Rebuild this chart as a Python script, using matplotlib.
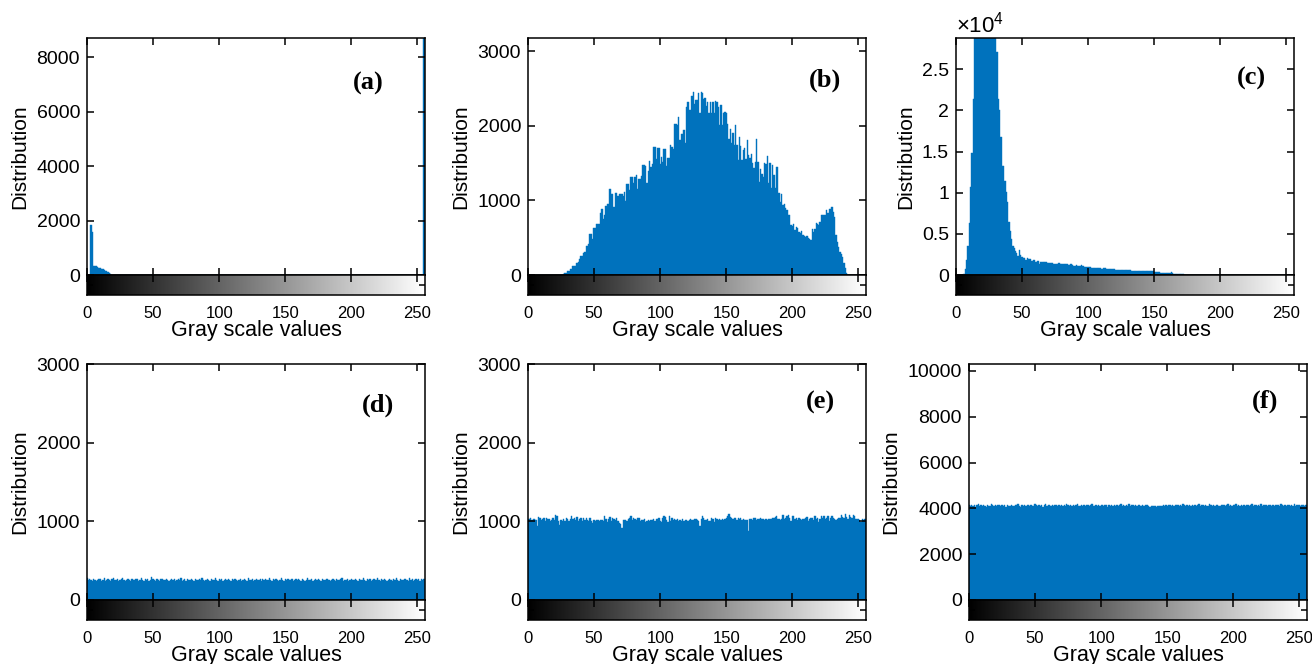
import numpy as np
import matplotlib
matplotlib.use("Agg")
import matplotlib.pyplot as plt
from matplotlib.ticker import FuncFormatter

# ---------------------------------------------------------------- data
# 256-bin gray-level histograms (bin index = gray value)
hist_a = ([0, 0, 0, 1840, 1595, 330, 345, 320, 290, 270, 250, 235, 215, 190,
           160, 130, 100, 70, 40, 15] + [0] * 235 + [8700])

hist_b = ([0] * 26 +
          [5, 18, 27, 27, 54, 54, 80, 80, 116, 116, 116, 160, 180, 215,
           260, 260, 290, 304, 393, 393, 416, 545, 554, 483, 630, 630, 684,
           684, 684, 831, 885, 750, 805, 925, 952, 952, 1153, 1086, 1086,
           912, 1100, 1100, 1060, 1082, 1082, 1082, 1060, 1113, 992, 1220,
           1220, 1140, 1310, 1310, 1234, 1319, 1337, 1158, 1283, 1283, 1323,
           1475, 1475, 1462, 1234, 1395, 1529, 1444, 1484, 1712, 1712, 1556,
           1703, 1703, 1489, 1582, 1515, 1694, 1694, 1457, 1569, 1569, 1748,
           1712, 1694, 2025, 2025, 2016, 2114, 1810, 1890, 1890, 1949, 1770,
           2253, 2320, 2213, 2213, 2400, 2459, 2293, 2347, 2347, 2440,
           2168, 2450, 2436, 2356, 2370, 2266, 2324, 2168, 2324, 2168, 2315,
           2168, 2338, 2324, 2248, 2012, 2280, 2012, 2168, 2181, 2168, 2020,
           1824, 1958, 1766, 1900, 1743, 2012, 1743, 1542, 1846, 1730, 1542,
           1676, 1699, 1556, 1806, 1609, 1565, 1623, 1497, 1430, 1520, 1819,
           1520, 1252, 1417, 1350, 1319, 1497, 1489, 1596, 1229, 1497, 1162,
           1475, 1341, 1162, 1444, 1453, 1095, 983, 1086, 939, 952, 894, 872,
           805, 805, 670, 662, 684, 603, 648, 626, 581, 559, 595, 536, 523,
           514, 527, 500, 480, 469, 617, 577, 617, 693, 684, 670, 715, 805,
           805, 805, 805, 872, 836, 885, 881, 916, 849, 782, 536, 447, 371,
           313, 282, 246, 165, 89, 22] +
          [0] * 14)

hist_c = ([0] * 6 +
          [150, 690, 1790, 3540, 6260, 10650, 14800, 21350] +
          [29000] * 17 +
          [27100, 21400, 20000, 16760, 13300, 13220, 11470, 10050, 8830,
           6390, 5370, 4350, 3540, 3340, 2930, 2730, 2320,
           3010, 2400, 2240, 2120, 2120, 1870, 2035, 1950, 1950, 1670, 1670,
           1830, 1550, 1550, 1710, 1300,
           1590, 1590, 1590, 1590, 1590, 1465, 1465, 1465, 1465, 1465, 1385,
           1385, 1385, 1385, 1465, 1385,
           1385, 1385, 1385, 1385, 1385, 1260, 1260, 1345, 1260, 1140, 1140,
           1260, 1140, 1140, 1140, 1260,
           1140, 977, 977, 977, 977, 977, 977, 855, 855, 855, 855, 855, 855,
           855, 692, 733,
           855, 855, 773, 773, 773, 773, 692, 692, 773, 611, 611, 611, 611,
           611, 611, 611,
           611, 611, 611, 651, 611, 488, 488, 488, 488, 488, 488, 488, 488,
           530, 488, 488,
           530, 488, 488, 488, 488, 488, 407, 366, 366, 366, 366, 285, 285,
           285, 285, 285,
           285, 285, 285, 326, 244, 163, 163, 163, 163, 163, 163, 163, 81] +
          [0] * 83)

hist_d = [
    277, 248, 271, 255, 244, 266, 259, 238, 252, 270, 261, 247, 256, 279, 243, 258,
    265, 251, 236, 262, 274, 249, 257, 268, 241, 255, 263, 277, 250, 246, 259, 271,
    254, 239, 266, 258, 249, 272, 261, 244, 256, 283, 252, 247, 264, 258, 270, 241,
    255, 287, 262, 250, 245, 268, 257, 239, 261, 273, 248, 256, 266, 251, 243, 259,
    270, 254, 262, 236, 249, 265, 258, 275, 247, 253, 261, 244, 268, 256, 250, 263,
    257, 242, 271, 259, 248, 266, 253, 281, 260, 245, 255, 269, 251, 238, 263, 257,
    249, 274, 258, 246, 262, 253, 267, 240, 256, 270, 249, 261, 255, 243, 266, 258,
    272, 251, 247, 260, 264, 238, 255, 268, 253, 246, 277, 259, 250, 263, 241, 257,
    265, 248, 255, 270, 243, 261, 252, 267, 258, 249, 274, 256, 245, 262, 253, 268,
    260, 247, 256, 285, 251, 242, 264, 259, 270, 248, 255, 263, 241, 257, 272, 250,
    262, 253, 246, 268, 257, 239, 260, 276, 252, 258, 265, 244, 255, 270, 249, 261,
    256, 243, 267, 254, 248, 262, 273, 251, 240, 259, 264, 253, 247, 269, 258, 250,
    263, 276, 245, 257, 252, 266, 241, 260, 271, 255, 248, 262, 254, 244, 267, 259,
    251, 274, 258, 246, 263, 255, 270, 242, 257, 265, 249, 260, 278, 253, 245, 262,
    256, 268, 250, 241, 259, 272, 254, 247, 263, 257, 284, 251, 244, 266, 258, 249,
    261, 270, 253, 246, 279, 255, 262, 238, 257, 268, 250, 263, 245, 271, 256, 262,
]

hist_e = [
    1030, 1028, 1038, 1021, 1030, 1035, 1019, 936, 1059, 1047, 1021, 1030, 1042, 1008, 1047, 1035,
    1030, 1004, 1021, 1038, 1018, 1085, 1062, 1008, 957, 1013, 1004, 1028, 1008, 1047, 1035, 1008,
    1026, 1064, 1030, 1047, 1013, 1059, 1008, 1030, 1047, 1004, 1038, 1013, 1047, 1021, 1008, 1040,
    1000, 978, 1013, 1008, 1021, 1021, 1004, 1012, 1013, 1008, 1072, 1030, 987, 1026, 1059, 1008,
    1040, 1030, 1021, 1047, 1004, 978, 966, 919, 1021, 1017, 1021, 1008, 1030, 1042, 1072, 1013,
    1038, 1025, 1019, 1047, 1040, 1008, 1013, 1021, 1030, 996, 1008, 1013, 1004, 1013, 1021, 1034,
    1000, 1030, 1026, 1038, 1000, 987, 1047, 1072, 1059, 1021, 996, 1064, 1008, 1040, 1021, 1034,
    1013, 1030, 1004, 1021, 1008, 1034, 1004, 1021, 1013, 1000, 1021, 1030, 1021, 1013, 1026, 1030,
    1013, 1000, 944, 1030, 1072, 1047, 1013, 1021, 1026, 1004, 1004, 1047, 1030, 996, 1038, 1030,
    1021, 1025, 1013, 1030, 1021, 1030, 1038, 1064, 1094, 1059, 1047, 1030, 1038, 1047, 1013, 1047,
    1030, 1038, 1021, 1025, 1013, 1021, 1013, 880, 1030, 1030, 1021, 1038, 1047, 1021, 1030, 1030,
    1038, 1034, 1030, 1013, 1030, 1021, 1030, 1025, 1030, 1038, 1038, 1055, 1064, 1030, 1034, 1013,
    1030, 1081, 1030, 1047, 1072, 1081, 1045, 1004, 1064, 1072, 1030, 1047, 1013, 1038, 1030, 1021,
    1030, 1030, 1047, 1059, 1004, 1030, 1038, 1047, 1013, 1064, 1030, 1038, 987, 1030, 1064, 1042,
    1072, 1030, 1047, 1064, 1008, 1047, 1072, 1038, 1030, 1021, 1030, 1047, 1038, 1081, 1055, 1047,
    1090, 1059, 1030, 1081, 1055, 1047, 1081, 1064, 1030, 1030, 1030, 1013, 987, 1030, 1021, 1030,
]

hist_f = [
    4130, 4095, 4160, 4110, 4142, 4075, 4128, 4170, 4101, 4136, 4088, 4150, 4119, 4064, 4145, 4122,
    4098, 4176, 4133, 4107, 4152, 4081, 4126, 4139, 4093, 4168, 4115, 4131, 4070, 4148, 4124, 4102,
    4157, 4117, 4086, 4141, 4129, 4182, 4096, 4055, 4134, 4112, 4163, 4090, 4127, 4146, 4108, 4138,
    4121, 4085, 4172, 4133, 4099, 4155, 4116, 4140, 4078, 4131, 4188, 4104, 4149, 4125, 4092, 4137,
    4111, 4166, 4127, 4083, 4144, 4119, 4158, 4097, 4135, 4106, 4171, 4128, 4089, 4150, 4114, 4132,
    4101, 4143, 4177, 4118, 4095, 4139, 4123, 4160, 4087, 4129, 4148, 4110, 4135, 4196, 4121, 4103,
    4140, 4116, 4153, 4092, 4131, 4167, 4109, 4126, 4145, 4080, 4137, 4119, 4159, 4100, 4133, 4124,
    4146, 4105, 4129, 4174, 4113, 4138, 4094, 4152, 4122, 4185, 4108, 4130, 4142, 4097, 4156, 4117,
    4127, 4164, 4103, 4136, 4118, 4091, 4149, 4125, 4110, 4070, 4098, 4113, 4084, 4102, 4076, 4107,
    4094, 4123, 4088, 4139, 4116, 4157, 4101, 4132, 4145, 4119, 4168, 4106, 4135, 4126, 4152, 4099,
    4141, 4114, 4179, 4128, 4093, 4147, 4120, 4161, 4105, 4134, 4118, 4150, 4089, 4138, 4173, 4112,
    4129, 4156, 4100, 4143, 4124, 4107, 4187, 4131, 4115, 4148, 4096, 4137, 4162, 4121, 4103, 4144,
    4127, 4165, 4110, 4139, 4184, 4118, 4152, 4095, 4133, 4126, 4170, 4108, 4146, 4122, 4159, 4101,
    4136, 4117, 4153, 4129, 4090, 4142, 4175, 4114, 4131, 4160, 4105, 4148, 4123, 4181, 4111, 4138,
    4126, 4151, 4097, 4140, 4166, 4119, 4134, 4102, 4158, 4128, 4145, 4113, 4176, 4132, 4099, 4147,
    4120, 4163, 4136, 4108, 4155, 4124, 4171, 4116, 4142, 4130, 4167, 4104, 4139, 4158, 4121, 4135,
]

panel_letters = ["(a)", "(b)", "(c)", "(d)", "(e)", "(f)"]
y_limits = [8700, 3180, 28800, 3000, 3000, 10300]
y_ticks = [
    [0, 2000, 4000, 6000, 8000],
    [0, 1000, 2000, 3000],
    [0, 5000, 10000, 15000, 20000, 25000],
    [0, 1000, 2000, 3000],
    [0, 1000, 2000, 3000],
    [0, 2000, 4000, 6000, 8000, 10000],
]
x_ticks = [0, 50, 100, 150, 200, 250]
x_label = "Gray scale values"
y_label = "Distribution"

# ---------------------------------------------------------------- style
plt.rcParams["font.family"] = ["Liberation Sans", "DejaVu Sans"]
plt.rcParams["mathtext.fontset"] = "custom"
plt.rcParams["mathtext.rm"] = "Liberation Sans"
plt.rcParams["mathtext.it"] = "Liberation Sans"

BAR_COLOR = "#0072BD"
W, H = 1312, 664
fig = plt.figure(figsize=(W / 100, H / 100), dpi=100)

# panel geometry in pixels: (left, top)
panel_px = [(87, 38), (528, 38), (956, 38), (87, 364), (528, 364), (969, 364)]
axes_w = 338
hist_h = [237, 237, 237, 236, 236, 236]
bar_h = 20
x_max = 255.7
letter_pos = [(0.833, 0.81), (0.878, 0.82), (0.875, 0.83),
              (0.861, 0.826), (0.864, 0.835), (0.876, 0.84)]

histograms = [hist_a, hist_b, hist_c, hist_d, hist_e, hist_f]
gradient = np.arange(256)[None, :]

for i, counts in enumerate(histograms):
    left, top = panel_px[i]
    h = hist_h[i]
    ax = fig.add_axes([left / W, 1 - (top + h) / H, axes_w / W, h / H])
    cax = fig.add_axes([left / W, 1 - (top + h + bar_h) / H, axes_w / W, bar_h / H])

    levels = np.arange(len(counts))
    ax.bar(levels, counts, width=1.0, color=BAR_COLOR, edgecolor=BAR_COLOR,
           linewidth=0.3)
    ax.set_xlim(0, x_max)
    ax.set_ylim(0, y_limits[i])
    ax.set_xticks(x_ticks)
    ax.set_yticks(y_ticks[i])
    ax.tick_params(direction="in", length=5, width=1.1, top=True, right=True,
                   labelbottom=False, labelsize=14, pad=5)
    for sp in ax.spines.values():
        sp.set_linewidth(1.1)
    if i == 2:
        ax.yaxis.set_major_formatter(FuncFormatter(lambda v, _: f"{v / 1e4:g}"))
        ax.text(0.0, 1.0, r"$\times10^{4}$", transform=ax.transAxes,
                ha="left", va="bottom", fontsize=16)
    ax.set_ylabel(y_label, fontsize=15, labelpad=5)
    ax.text(*letter_pos[i], panel_letters[i], transform=ax.transAxes,
            ha="center", va="center", fontsize=19, fontweight="bold",
            family=["Liberation Serif", "DejaVu Serif"])

    # gray-level colour bar beneath the histogram
    cax.imshow(gradient, cmap="gray", aspect="auto",
               extent=[-0.5, 255.5, 0, 1], interpolation="bilinear")
    cax.set_xlim(0, x_max)
    cax.set_ylim(0, 1)
    cax.set_xticks(x_ticks)
    cax.set_yticks([0.5])
    cax.tick_params(axis="x", direction="in", length=5, width=1.1,
                    top=True, bottom=False, labelbottom=True,
                    labelsize=12, pad=8)
    cax.tick_params(axis="y", direction="in", length=4, width=1.1, left=True,
                    right=True, labelleft=False)
    for sp in cax.spines.values():
        sp.set_linewidth(1.1)
    cax.set_xlabel(x_label, fontsize=15.5, labelpad=-1)

fig.savefig("out.png", dpi=100)
